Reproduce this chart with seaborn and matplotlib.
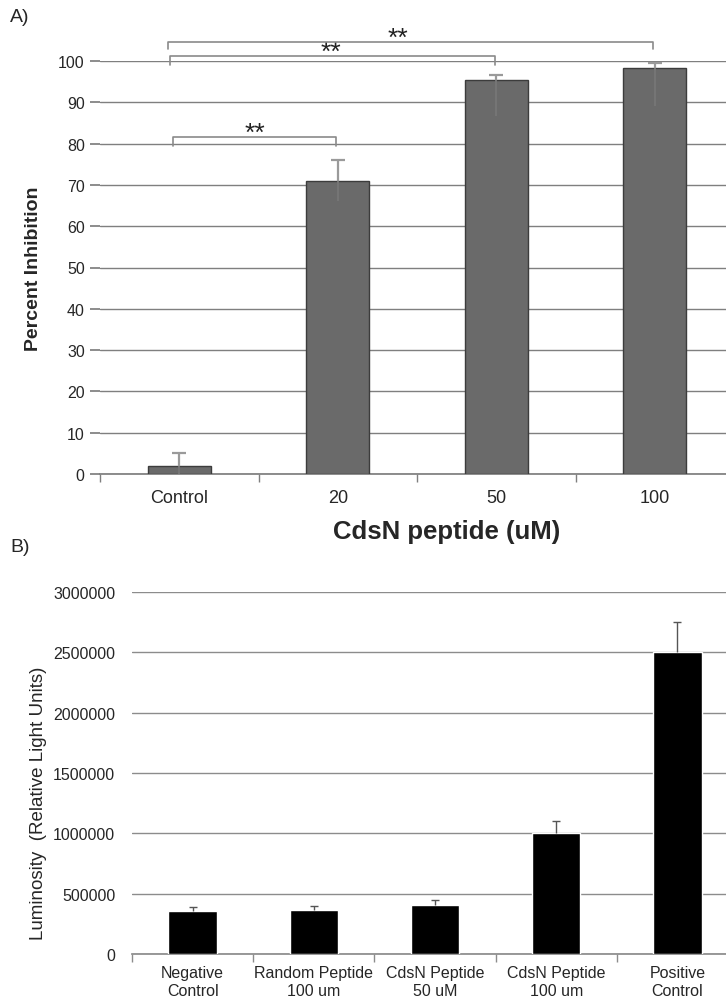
import matplotlib
matplotlib.use("Agg")
import matplotlib.pyplot as plt
import seaborn as sns
import pandas as pd
import numpy as np

sns.set_theme(style="white")
plt.rcParams['font.family'] = ['Liberation Sans', 'DejaVu Sans']

# Panel A: percent inhibition vs CdsN peptide concentration
conc_labels = ["Control", "20", "50", "100"]
inhibition = [2.0, 71.0, 95.3, 98.3]
inhib_err_low = [3.0, 5.0, 8.6, 9.3]
inhib_err_high = [3.0, 5.0, 1.3, 1.1]
sig_pairs = [(0, 1), (0, 2), (0, 3)]
sig_marks = ["**", "**", "**"]

# Panel B: luminosity
lum_labels = ["Negative\nControl", "Random Peptide\n100 um", "CdsN Peptide\n50 uM",
              "CdsN Peptide\n100 um", "Positive\nControl"]
luminosity = [355000, 362000, 408000, 1000000, 2500000]
lum_err = [32000, 33000, 40000, 100000, 250000]

da = pd.DataFrame({"conc": conc_labels, "inhib": inhibition})
db = pd.DataFrame({"group": lum_labels, "lum": luminosity})

fig = plt.figure(figsize=(7.26, 10.04), dpi=100)
W, H = 726.0, 1004.0

grid_col = "#7f7f7f"

# ---------------- Panel A ----------------
axA = fig.add_axes([100 / W, (H - 475) / H, 634 / W, 413 / H])
sns.barplot(data=da, x="conc", y="inhib", ax=axA, width=0.4, color="#6a6a6a",
            edgecolor="#3c3c3c", linewidth=1.0, saturation=1, errorbar=None, zorder=3)
xa = np.arange(len(inhibition))
# plus part (with cap) above the bar, minus part faint inside the bar
eb = axA.errorbar(xa, inhibition, yerr=[np.zeros(len(xa)), inhib_err_high],
                  fmt="none", ecolor="#9a9a9a", elinewidth=1.6, capsize=5, capthick=1.6, zorder=4)
eb[1][0].set_visible(False)
axA.vlines(xa, np.array(inhibition) - np.array(inhib_err_low), inhibition,
           color="#767676", lw=1.4, zorder=4)
axA.set_ylim(0, 100)
axA.set_xlim(-0.5, 3.5)
axA.set_yticks(range(0, 101, 10))
axA.yaxis.grid(True, color=grid_col, linewidth=1.0)
axA.set_axisbelow(True)
for s in ["top", "right", "left"]:
    axA.spines[s].set_visible(False)
axA.spines["bottom"].set_color(grid_col)
axA.tick_params(axis="y", length=7, color=grid_col, labelsize=11.5, pad=4, left=True)
axA.set_xticks(np.arange(-0.5, 3.6, 1.0), minor=True)
axA.tick_params(axis="x", which="minor", length=6, color=grid_col, bottom=True)
axA.tick_params(axis="x", which="major", length=0, labelsize=13, pad=11)
axA.set_xlabel("CdsN peptide (uM)", fontsize=18.5, fontweight="bold")
axA.xaxis.set_label_coords(0.547, -0.11)
axA.set_ylabel("Percent Inhibition", fontsize=14, fontweight="bold")
axA.yaxis.set_label_coords(-0.092, 0.5)

# significance brackets
bracket_geom = [(-0.04, 81.6, 79.4, 0.48, 82.6),
                (-0.06, 101.2, 99.0, 0.96, 102.2),
                (-0.07, 104.6, 102.9, 1.38, 105.6)]
for (i, j), mark, (x0, top, foot, sx, sy) in zip(sig_pairs, sig_marks, bracket_geom):
    x1 = j - 0.01
    axA.plot([x0, x0, x1, x1], [foot, top, top, foot], color="#8a8a8a", lw=1.2,
             clip_on=False, zorder=5)
    axA.text(sx, sy, mark, ha="center", va="center", fontsize=19, color="#222222",
             clip_on=False)

fig.text(10 / W, 1 - 18 / H, "A)", fontsize=14, va="center", ha="left")

# ---------------- Panel B ----------------
axB = fig.add_axes([132 / W, (H - 955) / H, 606 / W, 362 / H])
sns.barplot(data=db, x="group", y="lum", ax=axB, width=0.4, color="black",
            saturation=1, errorbar=None, zorder=3)
ebB = axB.errorbar(np.arange(len(luminosity)), luminosity, yerr=[np.zeros(len(lum_err)), lum_err],
                   fmt="none", ecolor="#555555", elinewidth=1.0, capsize=3, capthick=1.0, zorder=4)
ebB[1][0].set_visible(False)
axB.set_ylim(0, 3000000)
axB.set_xlim(-0.5, 4.5)
axB.set_yticks(range(0, 3000001, 500000))
axB.set_yticklabels([str(v) for v in range(0, 3000001, 500000)])
axB.yaxis.grid(True, color="#8c8c8c", linewidth=1.0)
axB.set_axisbelow(True)
for s in ["top", "right", "left"]:
    axB.spines[s].set_visible(False)
axB.spines["bottom"].set_color("#8c8c8c")
axB.tick_params(axis="y", length=0, labelsize=11.5, pad=12)
axB.set_xticks(np.arange(-0.5, 4.6, 1.0), minor=True)
axB.tick_params(axis="x", which="minor", length=6, color="#8c8c8c", bottom=True)
axB.tick_params(axis="x", which="major", length=0, labelsize=11.5, pad=8)
axB.set_xlabel("")
axB.set_ylabel("Luminosity  (Relative Light Units)", fontsize=13.5)
axB.yaxis.set_label_coords(-0.14, 0.42)

fig.text(10 / W, 1 - 548 / H, "B)", fontsize=14, va="center", ha="left")

fig.savefig("out.png", dpi=100)
